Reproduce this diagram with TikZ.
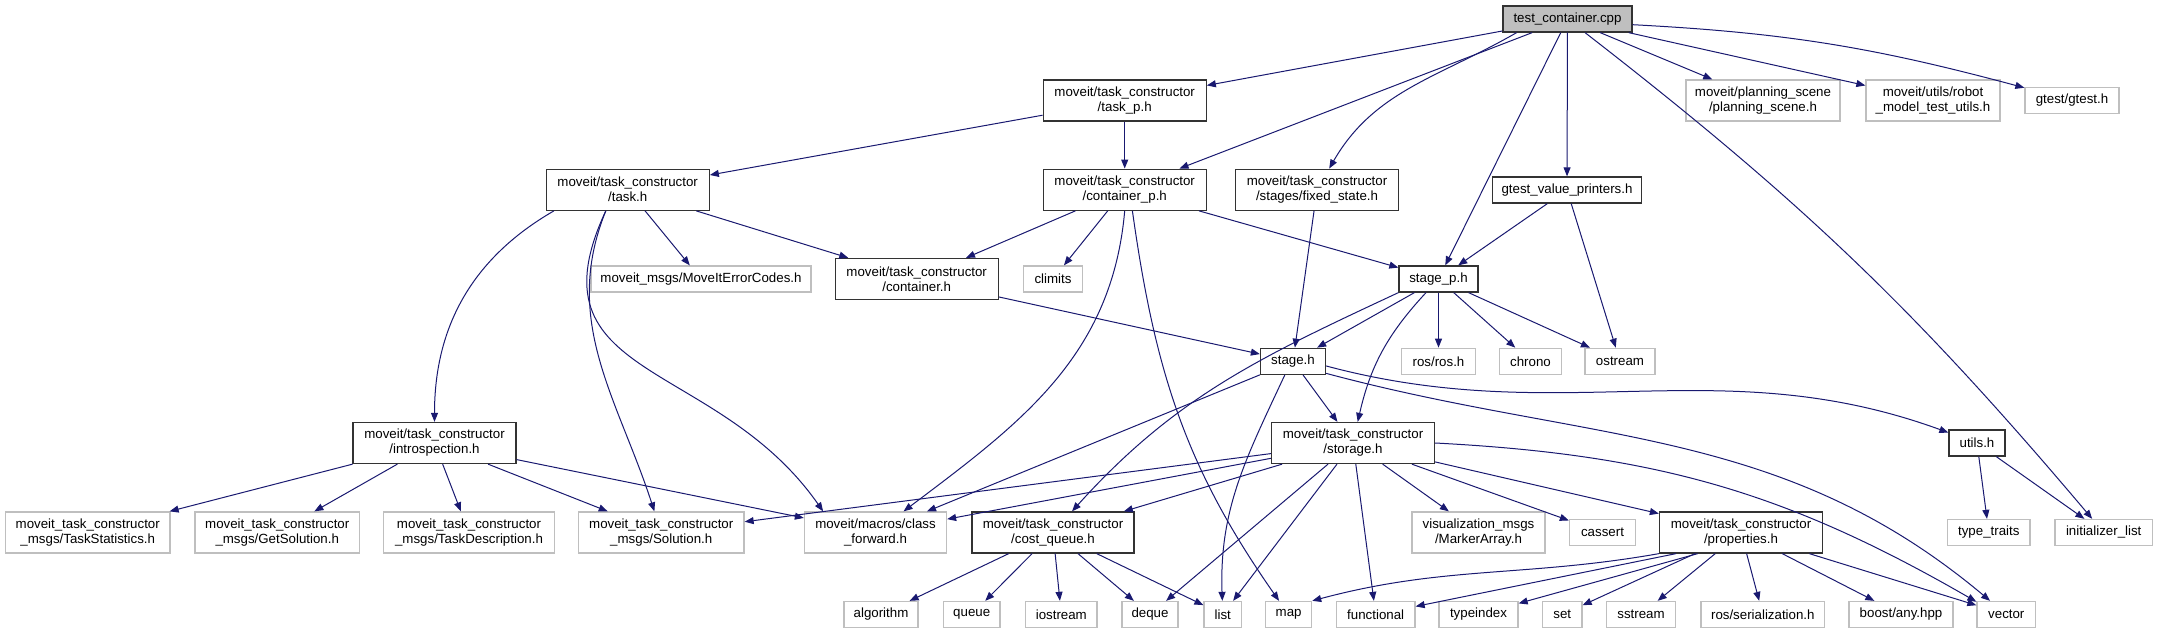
\documentclass[tikz,border=0pt]{standalone}
\usepackage{fontspec}
\setmainfont{Liberation Sans}
\usetikzlibrary{arrows.meta}
\definecolor{incblue}{HTML}{191970}
\definecolor{extgray}{HTML}{BFBFBF}
\tikzset{
  hdr/.style     = {draw=black!80, line width=1.3bp, inner sep=0pt, align=center,
                    minimum height=41bp, font=\fontsize{13.3bp}{15bp}\selectfont},
  hdrone/.style  = {hdr, minimum height=26bp},
  ext/.style     = {hdr, draw=extgray},
  extone/.style  = {ext, minimum height=26bp},
  srcfile/.style = {hdrone, fill=extgray},
  inc/.style     = {incblue, line width=1bp, -{Triangle[length=9bp,width=7bp]}},
}

\begin{document}
\begin{tikzpicture}[x=1bp, y=1bp]
  \useasboundingbox (0,0) rectangle (2158,-633);
  % first rows
  \node[srcfile, minimum width=129bp] (Root) at (1567.5,-19) {test\_container.cpp};
  \node[hdr, minimum width=163bp] (TaskP) at (1124.7,-100.5) {moveit/task\_constructor\\/task\_p.h};
  \node[ext, minimum width=154bp] (Scene) at (1763,-100.5) {moveit/planning\_scene\\/planning\_scene.h};
  \node[ext, minimum width=134bp] (RobotUtils) at (1933,-100.5) {moveit/utils/robot\\\_model\_test\_utils.h};
  \node[extone, minimum width=94bp] (GTest) at (2072,-100.5) {gtest/gtest.h};
  \node[hdr, minimum width=163bp] (Task) at (627.7,-189.7) {moveit/task\_constructor\\/task.h};
  \node[hdr, minimum width=163bp] (ContP) at (1124.7,-189.7) {moveit/task\_constructor\\/container\_p.h};
  \node[hdr, minimum width=163bp] (Fixed) at (1317,-189.7) {moveit/task\_constructor\\/stages/fixed\_state.h};
  \node[hdrone, minimum width=149.5bp] (Printers) at (1567,-190) {gtest\_value\_printers.h};
  \node[extone, minimum width=220bp] (ErrCodes) at (701,-279) {moveit\_msgs/MoveItErrorCodes.h};
  \node[hdr, minimum width=163bp] (Cont) at (916.7,-279) {moveit/task\_constructor\\/container.h};
  \node[extone, minimum width=59bp] (Climits) at (1053,-279) {climits};
  \node[hdrone, minimum width=79bp] (StageP) at (1438.5,-279) {stage\_p.h};
  \node[hdrone, minimum width=65bp] (Stage) at (1293,-361.3) {stage.h};
  \node[extone, minimum width=74bp] (RosRos) at (1438.5,-361.3) {ros/ros.h};
  \node[extone, minimum width=62bp] (Chrono) at (1530.5,-361.3) {chrono};
  \node[extone, minimum width=70bp] (Ostream) at (1620,-361.3) {ostream};
  \node[hdr, minimum width=163bp] (Intro) at (434.5,-443) {moveit/task\_constructor\\/introspection.h};
  \node[hdr, minimum width=163bp] (Storage) at (1353,-443) {moveit/task\_constructor\\/storage.h};
  \node[hdrone, minimum width=56bp] (Utils) at (1977,-443) {utils.h};
  % lower rows
  \node[ext, minimum width=164.5bp] (TaskStats) at (87.75,-532.5) {moveit\_task\_constructor\\\_msgs/TaskStatistics.h};
  \node[ext, minimum width=164.5bp] (GetSol) at (277.25,-532.5) {moveit\_task\_constructor\\\_msgs/GetSolution.h};
  \node[ext, minimum width=171bp] (TaskDesc) at (469,-532.5) {moveit\_task\_constructor\\\_msgs/TaskDescription.h};
  \node[ext, minimum width=165.5bp] (Solution) at (661.25,-532.5) {moveit\_task\_constructor\\\_msgs/Solution.h};
  \node[ext, minimum width=142bp] (ClassFwd) at (875.5,-532.5) {moveit/macros/class\\\_forward.h};
  \node[hdr, minimum width=162bp] (CostQueue) at (1053,-532.5) {moveit/task\_constructor\\/cost\_queue.h};
  \node[ext, minimum width=133bp] (MarkerArr) at (1478.5,-532.5) {visualization\_msgs\\/MarkerArray.h};
  \node[extone, minimum width=66bp] (Cassert) at (1602.5,-532.5) {cassert};
  \node[hdr, minimum width=163bp] (Props) at (1741,-532.5) {moveit/task\_constructor\\/properties.h};
  \node[extone, minimum width=82.4bp] (TypeTraits) at (1988.8,-532.5) {type\_traits};
  \node[extone, minimum width=97.5bp] (InitList) at (2103.7,-532.5) {initializer\_list};
  \node[extone, minimum width=74bp] (Algorithm) at (881,-614.5) {algorithm};
  \node[extone, minimum width=56.5bp] (Queue) at (971.7,-614.5) {queue};
  \node[extone, minimum width=71.4bp] (Iostream) at (1061.3,-614.5) {iostream};
  \node[extone, minimum width=56bp] (Deque) at (1150,-614.5) {deque};
  \node[extone, minimum width=37.6bp] (List) at (1222.8,-614.5) {list};
  \node[extone, minimum width=46bp] (Map) at (1288.6,-614.5) {map};
  \node[extone, minimum width=78.6bp] (Functional) at (1375.7,-614.5) {functional};
  \node[extone, minimum width=79bp] (TypeIndex) at (1478.5,-614.5) {typeindex};
  \node[extone, minimum width=39.3bp] (Set) at (1562.3,-614.5) {set};
  \node[extone, minimum width=68.8bp] (Sstream) at (1641,-614.5) {sstream};
  \node[extone, minimum width=123.6bp] (RosSer) at (1762.8,-614.5) {ros/serialization.h};
  \node[extone, minimum width=104bp] (BoostAny) at (1901,-614.5) {boost/any.hpp};
  \node[extone, minimum width=58.6bp] (Vector) at (2006.3,-614.5) {vector};
  % straight includes
  \foreach \a/\b in {Root/TaskP, Root/ContP, Root/StageP, Root/Printers, Root/Scene,
                     Root/RobotUtils, TaskP/Task, TaskP/ContP, Task/ErrCodes, Task/Cont,
                     ContP/Cont, ContP/Climits, ContP/StageP, Fixed/Stage, Printers/StageP,
                     Printers/Ostream, StageP/Stage, StageP/RosRos, StageP/Chrono,
                     StageP/Ostream, Cont/Stage, Stage/Storage, Stage/ClassFwd,
                     Storage/Solution, Storage/ClassFwd, Storage/CostQueue, Storage/Deque,
                     Storage/List, Storage/Functional, Storage/MarkerArr, Storage/Cassert,
                     Storage/Props, Intro/TaskStats, Intro/GetSol, Intro/TaskDesc,
                     Intro/Solution, Intro/ClassFwd, CostQueue/Algorithm, CostQueue/Queue,
                     CostQueue/Iostream, CostQueue/Deque, CostQueue/List, Props.-162/Functional,
                     Props.-154/TypeIndex, Props/Set, Props/Sstream, Props/RosSer,
                     Props/BoostAny, Props/Vector, Utils/TypeTraits, Utils/InitList}
    \draw[inc] (\a) -- (\b);
  % curved includes
  \draw[inc] (Root.-165) to[out=-150,in=60] (Fixed);
  \draw[inc] (Root.-5) to[out=-3,in=165] (GTest);
  \draw[inc] (Root) to[bend left=6] (InitList);
  \draw[inc] (Task.-164) to[out=-150,in=90] (Intro);
  \draw[inc] (Task.-136) to[out=-112,in=108] (Solution);
  \draw[inc] (Task.-136) to[out=-115,in=125,looseness=1.3] (ClassFwd.158);
  \draw[inc] (ContP.south) to[out=-95,in=37] (ClassFwd);
  \draw[inc] (ContP.-70) to[out=-82,in=125] (Map);
  \draw[inc] (StageP) to[bend right=15] (Storage);
  \draw[inc] (StageP.south west) to[out=-155,in=48] (CostQueue);
  \draw[inc] (Stage.-121) to[out=-115,in=92] (List);
  \draw[inc] (Stage.-20) to[out=-15,in=140] (Vector);
  \draw[inc] (Stage.-8) to[out=-15,in=160] (Utils);
  \draw[inc] (Storage.east) to[out=-3,in=150] (Vector.157);
  \draw[inc] (Props.south west) to[out=-170,in=15] (Map.30);
\end{tikzpicture}
\end{document}
